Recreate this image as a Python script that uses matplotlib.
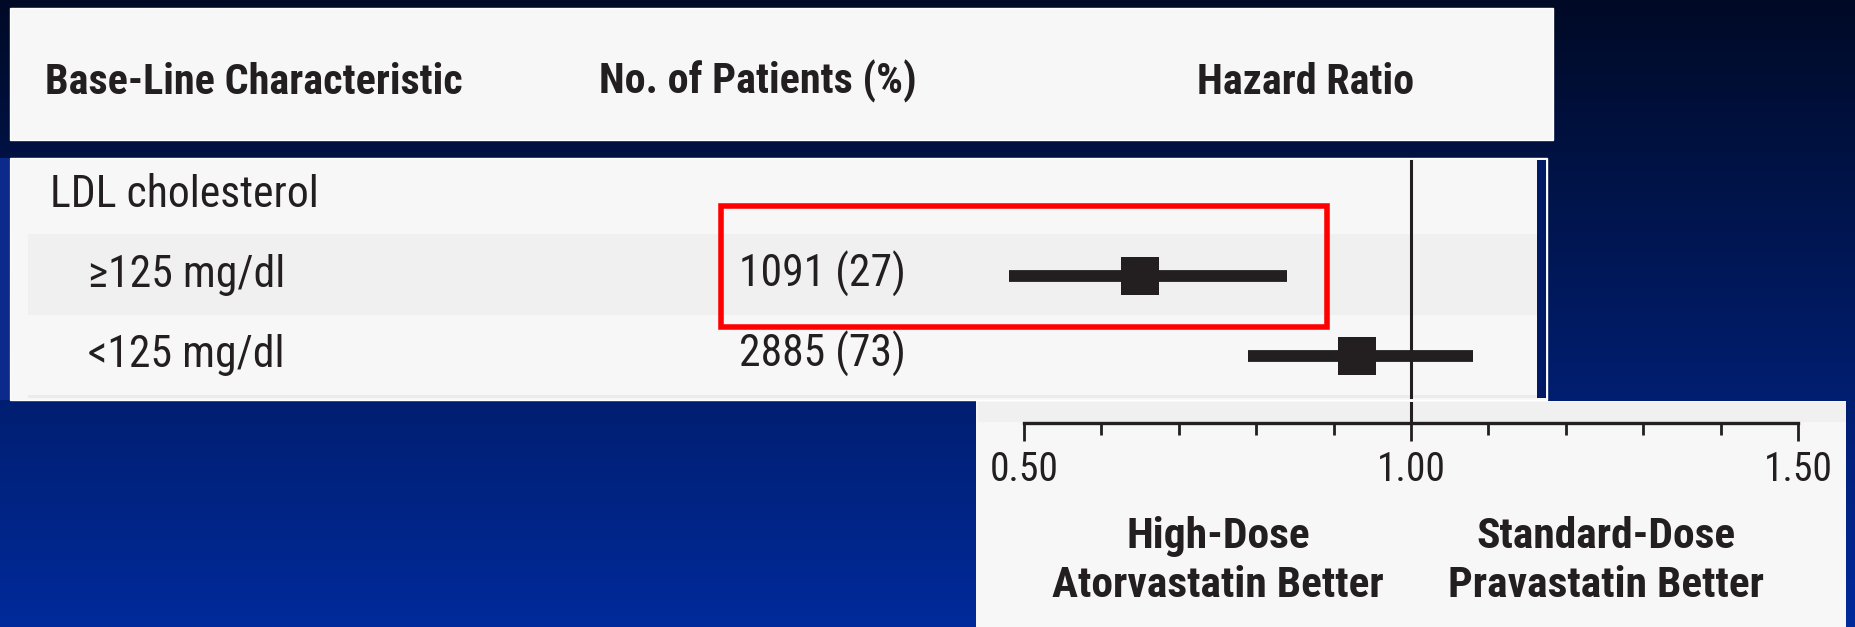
import matplotlib.pyplot as plt
import numpy as np
from matplotlib import font_manager
from matplotlib.patches import Rectangle
from matplotlib.transforms import Affine2D, blended_transform_factory

# Forest plot data: LDL cholesterol subgroups
group_title = "LDL cholesterol"
subgroups = ["\u2265125 mg/dl", "<125 mg/dl"]
patients = [1091, 2885]
percent = [27, 73]
hazard = [0.65, 0.93]
ci_low = [0.48, 0.79]
ci_high = [0.84, 1.08]

headers = ["Base-Line Characteristic", "No. of Patients (%)", "Hazard Ratio"]
tick_values = [0.50, 1.00, 1.50]
minor_values = [0.6, 0.7, 0.8, 0.9, 1.1, 1.2, 1.3, 1.4]
favours = [("High-Dose", "Atorvastatin Better"), ("Standard-Dose", "Pravastatin Better")]

INK = "#231f20"
PANEL = "#f7f7f7"
BAND = "#f0f0f0"

# prefer a narrow face if one is installed
installed = {f.name for f in font_manager.fontManager.ttflist}
FONT = [n for n in ["Liberation Sans Narrow", "DejaVu Sans Condensed", "Roboto Condensed"]
        if n in installed] + ["Liberation Sans", "DejaVu Sans"]

W, H = 1855, 627
fig = plt.figure(figsize=(W / 100, H / 100), dpi=100)
renderer = fig.canvas.get_renderer()
# pixel coordinates, origin top-left
pix = Affine2D().scale(1 / W, -1 / H).translate(0, 1) + fig.transFigure


def fit_size(s, width, bold=False):
    """Font size (pt) at which string s is `width` pixels wide."""
    t = fig.text(0, 0, s, fontsize=20, family=FONT, fontweight="bold" if bold else "normal")
    w = t.get_window_extent(renderer).width
    t.remove()
    return 20 * width / w


body_fs = fit_size(group_title, 268)
head_fs = fit_size(headers[0], 415, bold=True)
tick_fs = fit_size("0.50", 69)
fav_fs = fit_size(favours[0][1], 331, bold=True)

# background gradient
bg = fig.add_axes([0, 0, 1, 1], zorder=-10)
top = np.array([0, 10, 38]) / 255
bottom = np.array([0, 42, 155]) / 255
t = np.linspace(0, 1, 256)[:, None, None]
bg.imshow(top + (bottom - top) * t, aspect="auto", extent=[0, 1, 0, 1])
bg.set_axis_off()


def box(x0, y0, x1, y1, color, **kw):
    fig.patches.append(Rectangle((x0, y0), x1 - x0, y1 - y0, transform=pix,
                                 facecolor=color, zorder=-5, **kw))


# panels
box(9.5, 8, 1553, 140, PANEL, edgecolor="white", lw=1)
box(9.5, 158, 1547, 399.5, PANEL, edgecolor="white", lw=1)
box(28, 234, 1537, 314.7, BAND, lw=0)
box(28, 395, 1537, 397.5, "#ebebeb", lw=0)
box(1537, 160, 1545.5, 397.5, "#001a66", lw=0)
box(0, 158, 8.5, 400, "#0b2a8c", lw=0)
box(976, 400.5, 1846, 627, PANEL, lw=0)
box(977.5, 402, 1846, 422, BAND, lw=0)

# HR axis mapping: 1.00 at x=1411 px, 774 px per unit
x_left, x_right = 976, 1846
xlim = (1 + (x_left - 1411) / 774, 1 + (x_right - 1411) / 774)

# body axes: rows 0..2 at 196, 276, 356 px
b_top, b_bot = 158, 400
ax = fig.add_axes([x_left / W, 1 - b_bot / H, (x_right - x_left) / W, (b_bot - b_top) / H])
ax.set_xlim(*xlim)
ax.set_ylim((b_bot - 196) / 80, -(196 - b_top) / 80)
ax.set_axis_off()
ax.axvline(1.0, ymin=3 / 242, ymax=(400 - 160.5) / 242, color=INK, lw=2.2)

rows = np.arange(1, len(subgroups) + 1)
ax.hlines(rows, ci_low, ci_high, color=INK, lw=8.5, capstyle="butt")
ax.plot(hazard, rows, "s", color=INK, markersize=27, markeredgewidth=0)

# text columns
txt = blended_transform_factory(pix, ax.transData)
ax.text(50, 0.14, group_title, transform=txt, fontsize=body_fs, family=FONT,
        color=INK, va="baseline")
for r, name, n, p in zip(rows, subgroups, patients, percent):
    ax.text(88, r + 0.14, name, transform=txt, fontsize=body_fs, family=FONT,
            color=INK, va="baseline")
    ax.text(739, r + 0.14, f"{n} ({p})", transform=txt, fontsize=body_fs, family=FONT,
            color=INK, va="baseline")

# header row
for x, h in zip([45, 599, 1197], headers):
    fig.text(x, 93.5, h, transform=pix, fontsize=head_fs, family=FONT,
             fontweight="bold", color=INK, va="baseline")

# highlight box around first subgroup
fig.patches.append(Rectangle((721, 206), 605.5, 120.5, transform=pix,
                             fill=False, edgecolor="#ff0000", lw=4, zorder=5))

# HR scale axis
a_top, a_line = 402, 423.3
axx = fig.add_axes([x_left / W, 1 - a_line / H, (x_right - x_left) / W, (a_line - a_top) / H])
axx.set_xlim(*xlim)
axx.patch.set_alpha(0)
for s in ["top", "left", "right"]:
    axx.spines[s].set_visible(False)
axx.spines["bottom"].set_bounds(0.5, 1.5)
axx.spines["bottom"].set_linewidth(2.4)
axx.spines["bottom"].set_color(INK)
axx.set_yticks([])
axx.set_xticks(tick_values)
axx.set_xticklabels([f"{v:.2f}" for v in tick_values], fontsize=tick_fs, family=FONT, color=INK)
axx.set_xticks(minor_values, minor=True)
axx.tick_params(axis="x", which="major", length=13, width=2, color=INK, pad=6)
axx.tick_params(axis="x", which="minor", length=8.5, width=2, color=INK)
axx.axvline(1.0, color=INK, lw=2.2)

# favour labels under the scale
for cx, (l1, l2) in zip([1218, 1606], favours):
    fig.text(cx, 548.3, l1, transform=pix, fontsize=fav_fs, family=FONT,
             fontweight="bold", color=INK, ha="center", va="baseline")
    fig.text(cx, 596.7, l2, transform=pix, fontsize=fav_fs, family=FONT,
             fontweight="bold", color=INK, ha="center", va="baseline")

fig.savefig("out.png", dpi=100)
